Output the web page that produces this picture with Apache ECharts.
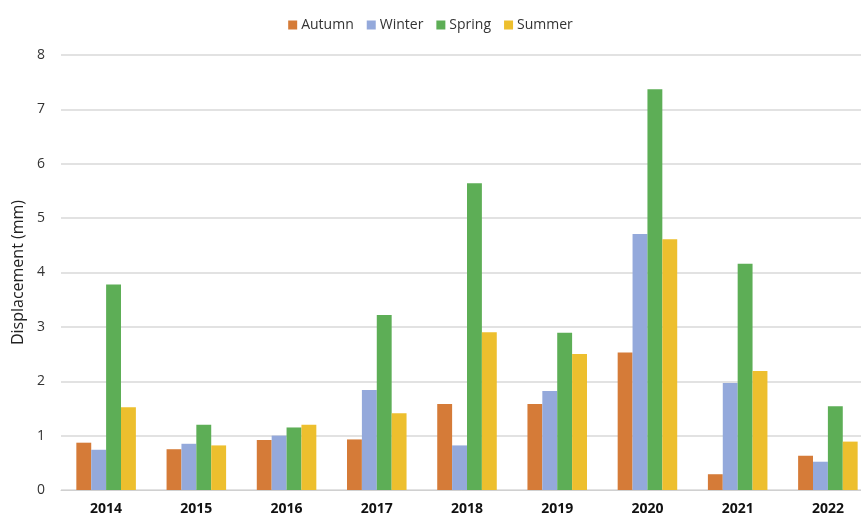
<!DOCTYPE html>
<html><head><meta charset="utf-8">
<script src="https://cdn.jsdelivr.net/npm/echarts@6/dist/echarts.min.js"></script>
<style>html,body{margin:0;padding:0;background:#fff}#c{width:861px;height:516px}</style>
</head><body><div id="c"></div>
<script>
const years = ['2014','2015','2016','2017','2018','2019','2020','2021','2022'];
const autumn = [0.87,0.75,0.92,0.93,1.58,1.58,2.53,0.29,0.63];
const winter = [0.74,0.85,1.00,1.84,0.82,1.82,4.71,1.97,0.52];
const spring = [3.78,1.20,1.15,3.22,5.64,2.89,7.37,4.16,1.54];
const summer = [1.52,0.82,1.20,1.41,2.90,2.50,4.61,2.19,0.89];
const seriesNames = ['Autumn','Winter','Spring','Summer'];
const colors = ['#D57B38','#94A9DB','#5DAE56','#EDBF2E'];
const values = [autumn, winter, spring, summer];
const chart = echarts.init(document.getElementById('c'));
chart.setOption({
  animation:false,
  color: colors,
  textStyle:{fontFamily:'Open Sans'},
  legend:{top:13,left:'center',itemWidth:9,itemHeight:9,itemGap:13,icon:'rect',
    textStyle:{fontSize:14,color:'#333',fontFamily:'Open Sans',padding:[0,0,0,-1]}},
  grid:{left:61,right:-12,top:55,bottom:26,outerBoundsMode:'none',containLabel:false},
  xAxis:{type:'category',data:years,
    axisLine:{lineStyle:{color:'#d0d0d0',width:1}},axisTick:{show:false},
    axisLabel:{fontWeight:'bold',fontSize:14,color:'#111',margin:12}},
  yAxis:{type:'value',min:0,max:8,interval:1,
    name:'Displacement (mm)',nameLocation:'middle',nameGap:35,
    nameTextStyle:{fontSize:16,color:'#222'},
    axisLabel:{fontSize:14,color:'#333',margin:16},
    splitLine:{lineStyle:{color:'#d9d9d9',width:1.5}}},
  series: seriesNames.map((n,i)=>({name:n,type:'bar',data:values[i],
    barGap:'0%',barCategoryGap:'34%'}))
});
</script></body></html>
